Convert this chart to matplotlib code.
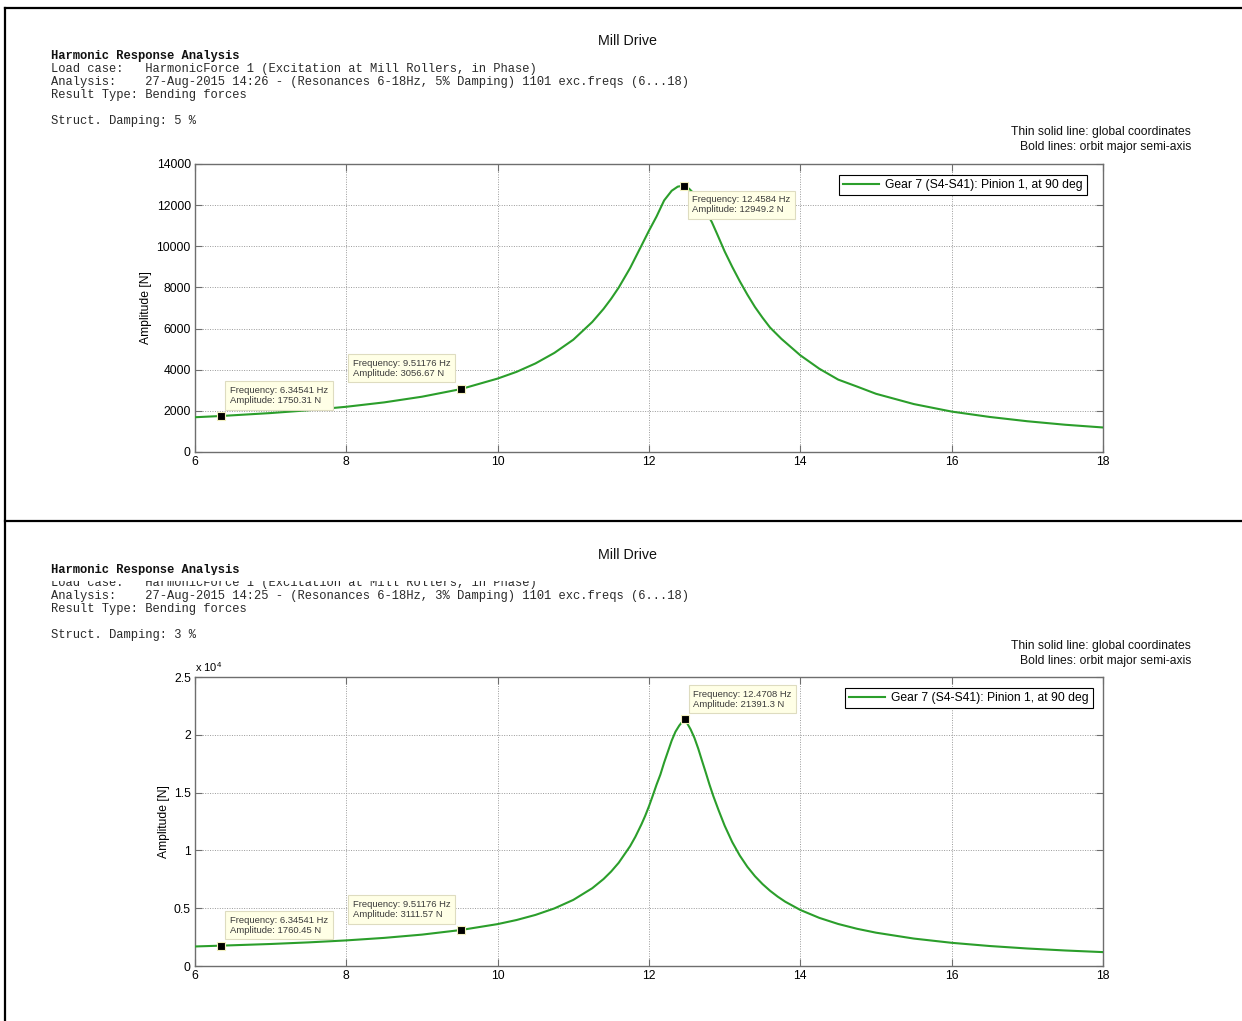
import matplotlib
matplotlib.use("Agg")
import matplotlib.pyplot as plt
from matplotlib.lines import Line2D
from matplotlib.patches import Rectangle
from matplotlib.ticker import FuncFormatter, MultipleLocator

# ---- data: harmonic bending force, Gear 7 (S4-S41), Pinion 1 at 90 deg ----
freq_5 = [6.0, 6.34541, 7.0, 7.5, 8.0, 8.5, 9.0, 9.51176, 10.0, 10.25, 10.5,
          10.75, 11.0, 11.25, 11.4, 11.5, 11.6, 11.75, 11.9, 12.0, 12.1, 12.2,
          12.3, 12.38, 12.4584, 12.53, 12.6, 12.68, 12.75, 12.83, 12.9, 13.0,
          13.1, 13.2, 13.3, 13.4, 13.5, 13.6, 13.75, 14.0, 14.25, 14.5, 14.75,
          15.0, 15.5, 16.0, 16.5, 17.0, 17.5, 18.0]
amp_5 = [1690, 1750.31, 1893, 2030, 2199, 2412, 2688, 3056.67, 3570, 3897, 4306,
         4819, 5460, 6320, 6960, 7450, 7995, 8941, 10030, 10760, 11450, 12230,
         12700, 12900, 12949.2, 12800, 12540, 12080, 11700, 11180, 10600, 9750,
         9000, 8300, 7650, 7050, 6530, 6050, 5500, 4700, 4050, 3520, 3180,
         2830, 2330, 1965, 1705, 1495, 1325, 1192]

freq_3 = [6.0, 6.34541, 7.0, 7.5, 8.0, 8.5, 9.0, 9.51176, 10.0, 10.25, 10.5,
          10.75, 11.0, 11.25, 11.4, 11.5, 11.6, 11.75, 11.82, 11.9, 11.95, 12.0,
          12.05, 12.1, 12.15, 12.2, 12.25, 12.3, 12.35, 12.4, 12.4708, 12.55,
          12.6, 12.65, 12.7, 12.75, 12.8, 12.85, 12.92, 13.0, 13.1, 13.2, 13.3,
          13.4, 13.5, 13.6, 13.7, 13.8, 14.0, 14.25, 14.5, 14.75, 15.0, 15.5,
          16.0, 16.5, 17.0, 17.5, 18.0]
amp_3 = [1690, 1760.45, 1904, 2043, 2215, 2432, 2715, 3111.57, 3625, 3979, 4420,
         4983, 5720, 6729, 7527, 8175, 8934, 10363, 11180, 12253, 12995, 13826,
         14740, 15692, 16550, 17600, 18550, 19500, 20270, 20800, 21391.3, 20470,
         19740, 18820, 17770, 16740, 15680, 14700, 13470, 12137, 10720, 9552,
         8580, 7770, 7090, 6507, 6005, 5564, 4848, 4165, 3636, 3219, 2883, 2373,
         2006, 1730, 1514, 1342, 1201]

# data tips shown on each curve
tip_freq_5 = [6.34541, 9.51176, 12.4584]
tip_amp_5 = [1750.31, 3056.67, 12949.2]
tip_freq_3 = [6.34541, 9.51176, 12.4708]
tip_amp_3 = [1760.45, 3111.57, 21391.3]

series_label = "Gear 7 (S4-S41): Pinion 1, at 90 deg"

header_5 = ["Load case:   HarmonicForce 1 (Excitation at Mill Rollers, in Phase)",
            "Analysis:    27-Aug-2015 14:26 - (Resonances 6-18Hz, 5% Damping) 1101 exc.freqs (6...18)",
            "Result Type: Bending forces"]
header_3 = ["Load case:   HarmonicForce 1 (Excitation at Mill Rollers, in Phase)",
            "Analysis:    27-Aug-2015 14:25 - (Resonances 6-18Hz, 3% Damping) 1101 exc.freqs (6...18)",
            "Result Type: Bending forces"]

W, H = 1242, 1021
plt.rcParams["font.family"] = ["Liberation Sans", "DejaVu Sans"]
plt.rcParams["mathtext.fontset"] = "custom"
plt.rcParams["mathtext.rm"] = "Liberation Sans"

fig = plt.figure(figsize=(W / 100, H / 100), dpi=100)
fig.patch.set_facecolor("white")

GREEN = "#2b9e2b"
SPINE = "#6e6e6e"


def fx(x):
    return x / W


def fy(y):
    return 1 - y / H


# page frame lines
for (x0, y0, x1, y1) in [(5, 8, W, 8), (5, 8, 5, H), (5, 521, W, 521)]:
    fig.add_artist(Line2D([fx(x0), fx(x1)], [fy(y0), fy(y1)],
                          color="black", lw=1.6, transform=fig.transFigure))


def header(y0, lines, damping):
    fig.text(fx(628), fy(y0 - 15), "Mill Drive", ha="center", va="center",
             fontsize=10.3, color="#111111")
    fig.text(fx(51), fy(y0), "Harmonic Response Analysis", ha="left", va="center",
             family="Liberation Mono", fontweight="bold", fontsize=8.75,
             color="#111111")
    for i, ln in enumerate(lines):
        fig.text(fx(51), fy(y0 + 13 * (i + 1)), ln, ha="left", va="center",
                 family="Liberation Mono", fontsize=8.75, color="#2a2a2a")
    fig.text(fx(51), fy(y0 + 65), f"Struct. Damping: {damping} %", ha="left",
             va="center", family="Liberation Mono", fontsize=8.75,
             color="#2a2a2a")
    fig.text(fx(1191), fy(y0 + 76), "Thin solid line: global coordinates",
             ha="right", va="center", fontsize=8.7, color="#111111")
    fig.text(fx(1191), fy(y0 + 91), "Bold lines: orbit major semi-axis",
             ha="right", va="center", fontsize=8.7, color="#111111")


def style_axes(ax):
    for s in ax.spines.values():
        s.set_color(SPINE)
        s.set_linewidth(1.0)
    ax.tick_params(direction="in", length=5, width=0.8, color=SPINE,
                   labelsize=8.7, labelcolor="black", top=True, right=True, pad=3)
    ax.grid(True, linestyle=(0, (1, 1.5)), color="#9a9a9a", linewidth=0.7)
    ax.set_xlim(6, 18)
    ax.xaxis.set_major_locator(MultipleLocator(2))
    ax.set_ylabel("Amplitude [N]", fontsize=8.7, labelpad=3)


def datatip(ax, x, y, dx, dy, ha, va):
    ax.plot([x], [y], marker="s", ms=5.5, color="black", mec="#f3f0c0", mew=0.8,
            zorder=6)
    ax.annotate(f"Frequency: {x:g} Hz\nAmplitude: {y:g} N", xy=(x, y),
                xytext=(dx, dy), textcoords="offset points", ha=ha, va=va,
                multialignment="left", fontsize=6.8, color="#3c3c3c",
                linespacing=1.15, zorder=7,
                bbox=dict(boxstyle="square,pad=0.5", fc="#ffffe6",
                          ec="#dedcc0", lw=0.8))


def panel(rect, freq, amp, ymax, ystep, tips_f, tips_a, offsets, leg_anchor):
    ax = fig.add_axes(rect)
    ax.plot(freq, amp, color=GREEN, lw=1.5, label=series_label, zorder=5,
            solid_joinstyle="round")
    style_axes(ax)
    ax.set_ylim(0, ymax)
    ax.yaxis.set_major_locator(MultipleLocator(ystep))
    for (f, a), (dx, dy, ha, va) in zip(zip(tips_f, tips_a), offsets):
        datatip(ax, f, a, dx, dy, ha, va)
    leg = ax.legend(loc="upper right", bbox_to_anchor=leg_anchor, fontsize=8.7,
                    frameon=True, fancybox=False, framealpha=1,
                    borderpad=0.35, handlelength=3.0, handletextpad=0.5,
                    borderaxespad=0)
    leg.get_frame().set_edgecolor("black")
    leg.get_frame().set_linewidth(0.8)
    return ax


# top panel: 5 % damping
header(56, header_5, 5)
ax1 = panel([fx(195), fy(452), 908 / W, 288 / H], freq_5, amp_5, 14000, 2000,
            tip_freq_5, tip_amp_5,
            [(6.5, 7.9, "left", "bottom"), (-7.2, 8.3, "right", "bottom"),
             (6.3, -7.0, "left", "top")],
            (0.9824, 0.962))
ax1.yaxis.set_major_formatter(FuncFormatter(lambda v, p: f"{v:.0f}"))

# bottom panel: 3 % damping
header(570, header_3, 3)
ax2 = panel([fx(195), fy(966), 908 / W, 289 / H], freq_3, amp_3, 25000, 5000,
            tip_freq_3, tip_amp_3,
            [(6.5, 7.9, "left", "bottom"), (-7.2, 7.9, "right", "bottom"),
             (6.3, 7.2, "left", "bottom")],
            (0.989, 0.962))
ax2.yaxis.set_major_formatter(FuncFormatter(lambda v, p: f"{v / 1e4:g}"))
ax2.text(0.0, 1.012, r"x 10$^{\mathregular{4}}$", transform=ax2.transAxes,
         ha="left", va="bottom", fontsize=8, color="black")

# upper part of the second "Load case" line is hidden under the title block
fig.add_artist(Rectangle((fx(48), fy(580.5)), fx(500), 5.5 / H,
                         transform=fig.transFigure, fc="white", ec="none",
                         zorder=10))

fig.savefig("out.png", dpi=100, facecolor="white")
